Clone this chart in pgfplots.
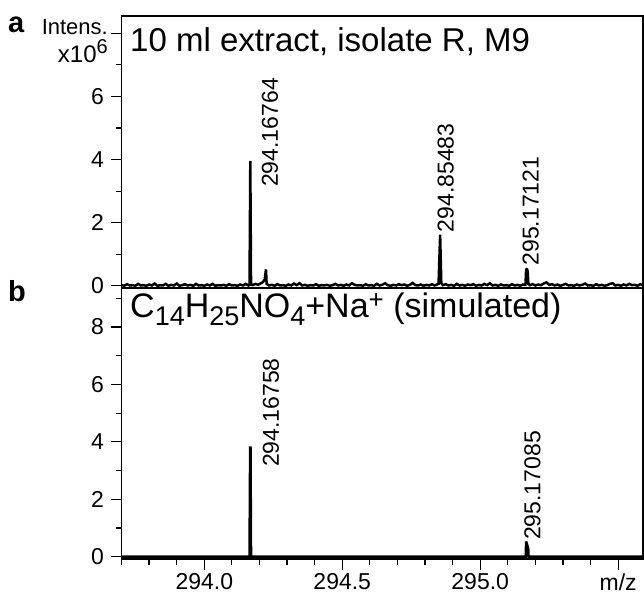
\documentclass[border=0pt]{standalone}
\usepackage{fontspec}
\setmainfont{Liberation Sans}
\usepackage{pgfplots}
\pgfplotsset{compat=1.18}
\newcommand{\fs}[1]{\fontsize{#1}{#1}\selectfont}

\pgfplotstableread{
x y
293.700 0.02
293.710 0.00
293.720 0.05
293.730 0.01
293.740 0.02
293.750 0.00
293.760 0.06
293.770 0.01
293.780 0.02
293.790 0.00
293.800 0.04
293.810 0.01
293.820 0.07
293.830 0.00
293.840 0.02
293.850 0.01
293.860 0.06
293.870 0.00
293.880 0.03
293.890 0.01
293.900 0.07
293.910 0.00
293.920 0.02
293.930 0.05
293.940 0.01
293.950 0.03
293.960 0.00
293.970 0.06
293.980 0.01
293.990 0.02
294.000 0.00
294.010 0.04
294.020 0.01
294.030 0.06
294.040 0.00
294.050 0.02
294.060 0.01
294.070 0.03
294.080 0.00
294.090 0.05
294.100 0.01
294.110 0.02
294.120 0.00
294.130 0.04
294.140 0.01
294.150 0.06
294.160 0.01
294.1640 0.03
294.1668 3.96
294.1695 0.04
294.175 0.02
294.185 0.06
294.195 0.03
294.205 0.08
294.213 0.12
294.2190 0.20
294.2236 0.52
294.2260 0.06
294.235 0.01
294.245 0.03
294.255 0.00
294.265 0.05
294.275 0.01
294.285 0.02
294.295 0.00
294.305 0.04
294.315 0.01
294.325 0.07
294.335 0.02
294.345 0.08
294.355 0.01
294.365 0.03
294.375 0.00
294.385 0.02
294.395 0.01
294.405 0.05
294.415 0.00
294.425 0.02
294.435 0.01
294.445 0.03
294.455 0.00
294.465 0.02
294.475 0.06
294.485 0.01
294.495 0.03
294.505 0.00
294.515 0.04
294.525 0.01
294.535 0.08
294.545 0.03
294.555 0.01
294.565 0.02
294.575 0.00
294.585 0.05
294.595 0.01
294.605 0.02
294.615 0.00
294.625 0.06
294.635 0.01
294.645 0.03
294.655 0.08
294.665 0.02
294.675 0.00
294.685 0.03
294.695 0.01
294.705 0.05
294.715 0.02
294.725 0.04
294.735 0.00
294.745 0.03
294.755 0.09
294.765 0.02
294.775 0.01
294.785 0.04
294.795 0.00
294.805 0.03
294.815 0.01
294.825 0.05
294.835 0.01
294.843 0.04
294.8490 0.06
294.8548 1.62
294.8590 0.08
294.865 0.02
294.875 0.05
294.885 0.01
294.895 0.03
294.905 0.00
294.915 0.06
294.925 0.01
294.935 0.03
294.945 0.00
294.955 0.04
294.965 0.02
294.975 0.05
294.985 0.00
294.995 0.03
295.005 0.01
295.015 0.06
295.025 0.02
295.035 0.08
295.045 0.01
295.055 0.03
295.065 0.00
295.075 0.04
295.085 0.01
295.095 0.02
295.105 0.00
295.115 0.05
295.125 0.01
295.135 0.03
295.145 0.00
295.155 0.04
295.1640 0.03
295.1665 0.54
295.1700 0.52
295.1720 0.45
295.1745 0.06
295.180 0.02
295.190 0.05
295.200 0.01
295.210 0.04
295.220 0.02
295.230 0.07
295.240 0.11
295.250 0.03
295.260 0.05
295.270 0.01
295.280 0.04
295.290 0.00
295.300 0.03
295.310 0.06
295.320 0.01
295.330 0.02
295.340 0.00
295.350 0.04
295.360 0.01
295.370 0.03
295.380 0.07
295.390 0.01
295.400 0.02
295.410 0.00
295.420 0.05
295.430 0.01
295.440 0.03
295.450 0.00
295.460 0.02
295.470 0.06
295.480 0.08
295.490 0.01
295.500 0.03
295.510 0.00
295.520 0.04
295.530 0.01
295.540 0.06
295.550 0.02
295.560 0.03
295.570 0.00
295.580 0.05
295.590 0.02
}\measured

\pgfplotstableread{
x y
293.700 0
294.1640 0
294.1662 3.80
294.1675 3.80
294.1695 0
295.1650 0
295.1665 0.53
295.1740 0.28
295.1750 0
295.590 0
}\simulated

\tikzset{
  lblstyle/.style={rotate=90, anchor=west, inner sep=0pt, font=\fs{23}},
}
\pgfplotsset{
  msstyle/.style={
    scale only axis, width=521.5pt,
    xmin=293.7, xmax=295.59,
    axis line style={line width=1.6pt, black},
    tick align=outside,
    major tick length=10.5pt, minor tick length=5.5pt,
    tick style={line width=1.2pt, black},
    tick label style={font=\fs{23}},
    /pgf/number format/assume math mode=true,
    ytick pos=left,
    yticklabel style={inner sep=0pt, xshift=-7pt},
    ytick={0,2,4,6,8},
    minor ytick={1,3,5,7,9},
  },
  specstyle/.style={black, line width=2.5pt, line join=miter, miter limit=2, no markers},
}

\begin{document}
\begin{tikzpicture}[x=1pt,y=1pt]
\useasboundingbox (0pt,0pt) rectangle (644pt,596pt);
% panel a
\begin{axis}[msstyle, at={(121.5pt,308pt)}, anchor=south west, height=272pt,
  ymin=-0.07, ymax=8.55, xtick=\empty, minor xtick={},
  yticklabels={0,2,4,6,{}}]
  \addplot[specstyle] table[x=x,y=y] {\measured};
  \node[lblstyle] at (axis cs:294.238,3.13) {294.16764};
  \node[lblstyle] at (axis cs:294.875,1.69) {294.85483};
  \node[lblstyle] at (axis cs:295.183,0.64) {295.17121};
\end{axis}
% panel b
\begin{axis}[msstyle, at={(121.5pt,37pt)}, anchor=south west, height=271pt,
  ymin=-0.08, ymax=9.36,
  yticklabels={0,2,4,6,8},
  xtick pos=bottom,
  xtick={294,294.5,295,295.5},
  xticklabels={294.0,294.5,295.0,m/z},
  minor xtick={293.7,293.8,293.9,294.1,294.2,294.3,294.4,294.6,294.7,294.8,294.9,295.1,295.2,295.3,295.4},
  xticklabel style={inner sep=0pt, yshift=-4pt}]
  \addplot[specstyle] table[x=x,y=y] {\simulated};
  \node[lblstyle] at (axis cs:294.2417,3.12) {294.16758};
  \node[lblstyle] at (axis cs:295.189,0.58) {295.17085};
\end{axis}
% titles and labels
\node[anchor=base west, inner sep=0pt, font=\fs{33}] at (130pt,544pt) {10 ml extract, isolate R, M9};
\node[anchor=base west, inner sep=0pt, font=\fs{34}] at (130pt,278pt)
  {C\raisebox{-8pt}{\fs{27}14}H\raisebox{-8pt}{\fs{27}25}NO\raisebox{-8pt}{\fs{27}4}+Na\raisebox{9pt}{\fs{26}+} (simulated)};
\node[anchor=base west, inner sep=0pt, font=\fs{29}\bfseries] at (8pt,563pt) {a};
\node[anchor=base west, inner sep=0pt, font=\fs{29}\bfseries] at (8pt,294pt) {b};
\node[anchor=base east, inner sep=0pt, font=\fs{22}] at (108pt,561.7pt) {Intens.};
\node[anchor=base east, inner sep=0pt, font=\fs{24}] at (108pt,533pt) {x10\raisebox{9pt}{\fs{20}6}};
\end{tikzpicture}
\end{document}
